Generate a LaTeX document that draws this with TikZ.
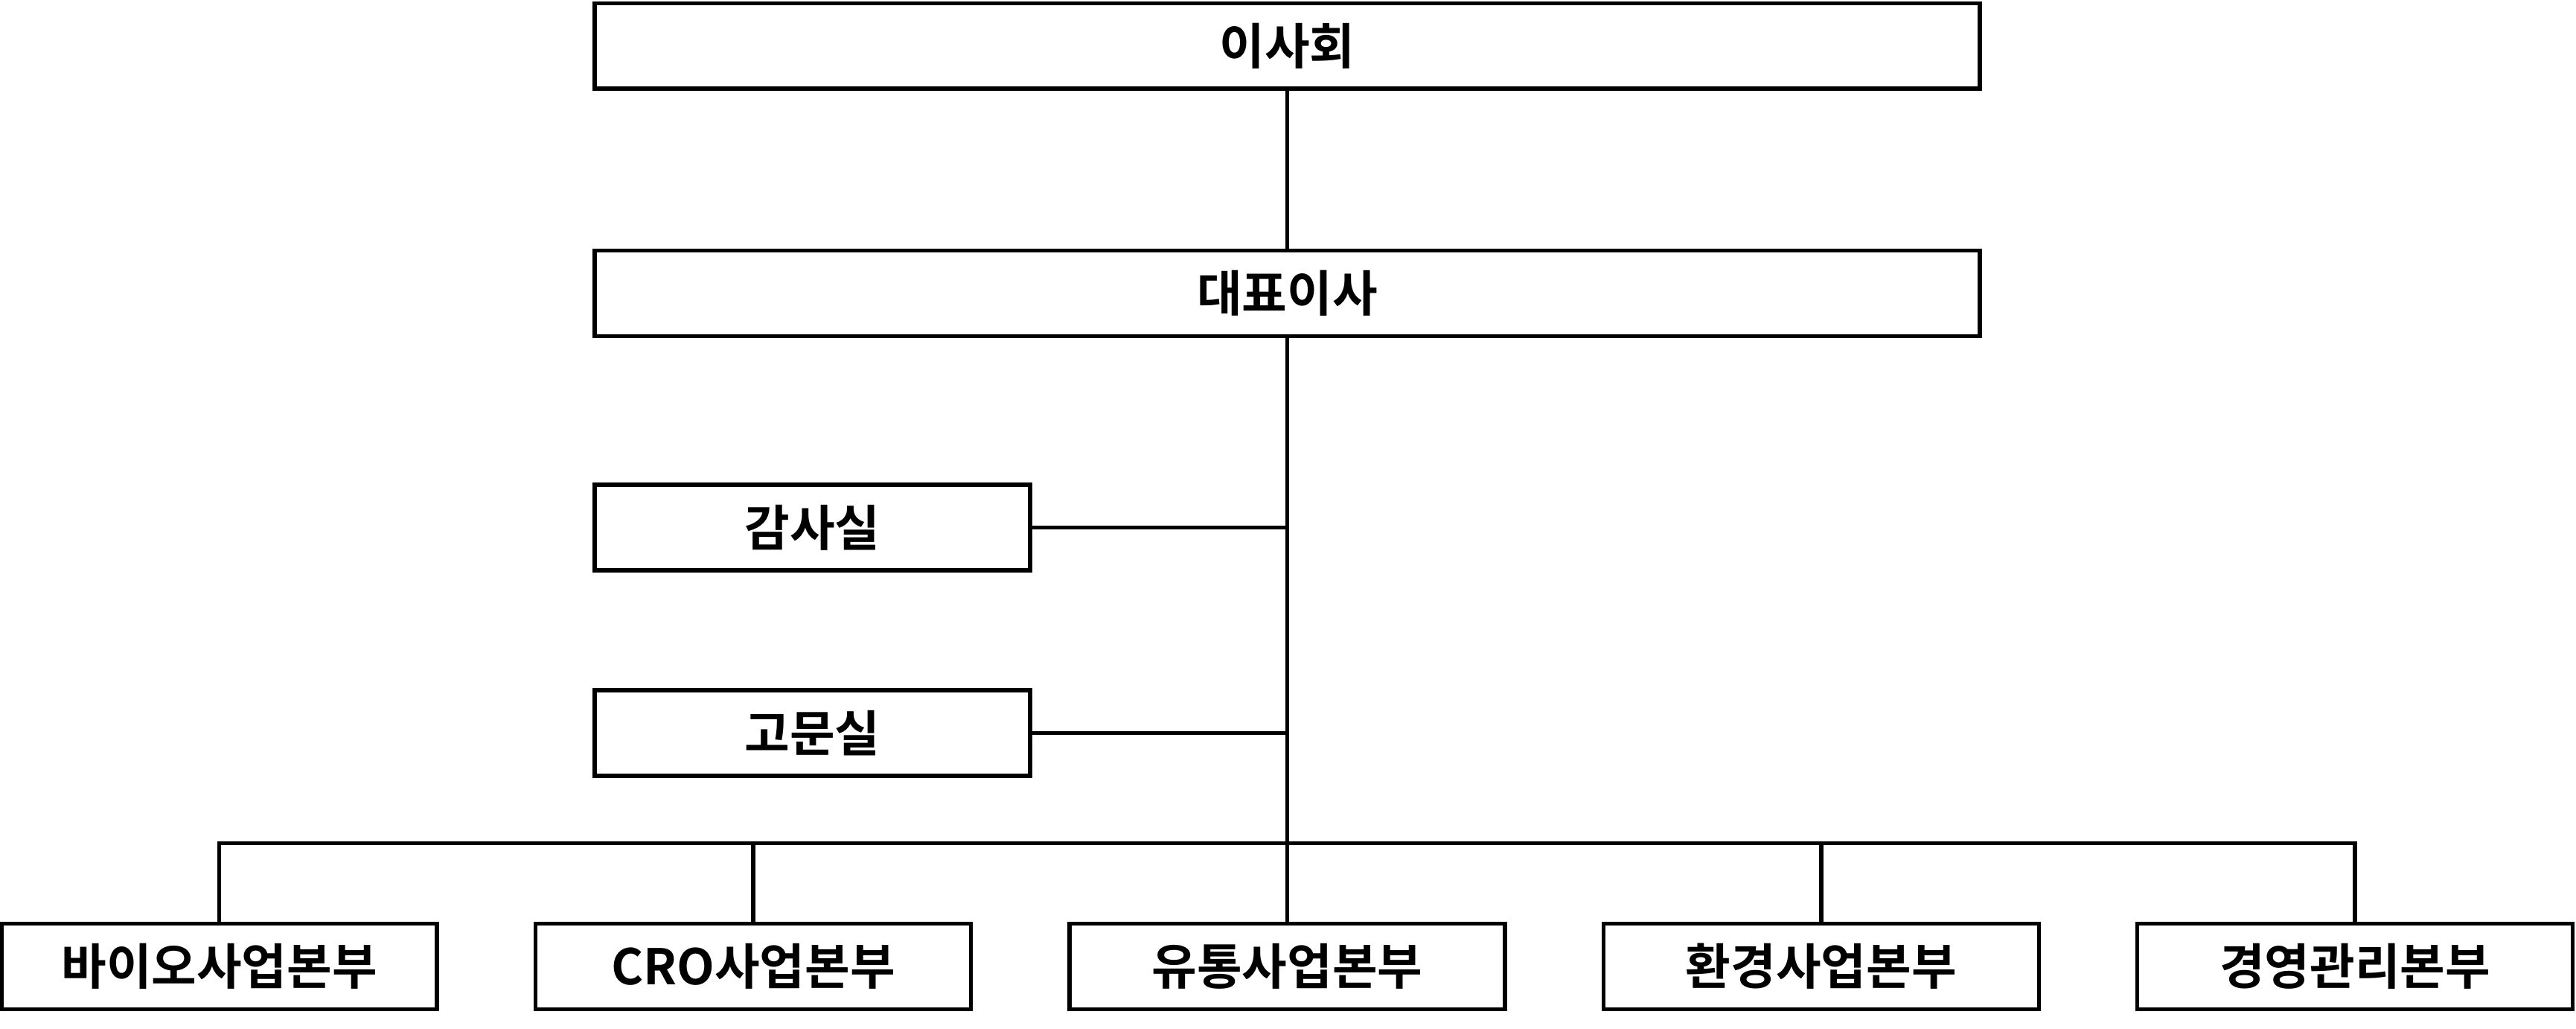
\documentclass[tikz,border=0pt]{standalone}
\usepackage{fontspec}
\setmainfont{Noto Sans CJK KR}[BoldFont={* Bold}]
\begin{document}
\begin{tikzpicture}[x=0.02cm,y=-0.02cm,
  box/.style={draw,line width=1.4pt,rectangle,minimum height=52*0.02cm,inner sep=0pt,font=\fontsize{17}{20}\selectfont\bfseries},
  wide/.style={box,minimum width=843*0.02cm},
  small/.style={box,minimum width=265*0.02cm},
  ln/.style={line width=1.4pt}]
\useasboundingbox (0,0) rectangle (1568,626);
\node[wide] (board) at (783.5,28) {이사회};
\node[wide] (ceo) at (783.5,178.5) {대표이사};
\node[small] (audit) at (494.5,321) {감사실};
\node[small] (adv) at (494.5,446) {고문실};
\node[small] (b1) at (133.5,588) {바이오사업본부};
\node[small] (b2) at (458.5,588) {CRO사업본부};
\node[small] (b3) at (783.5,588) {유통사업본부};
\node[small] (b4) at (1108.5,588) {환경사업본부};
\node[small] (b5) at (1433.5,588) {경영관리본부};
\coordinate (bus) at (783.5,513);
\draw[ln] (board.south) -- (ceo.north);
\draw[ln] (ceo.south) -- (bus);
\draw[ln] (audit.east) -- (audit.east -| bus);
\draw[ln] (adv.east) -- (adv.east -| bus);
\draw[ln] (b1.north) |- (bus) -| (b5.north);
\draw[ln] (b2.north) -- (b2.north |- bus);
\draw[ln] (b3.north) -- (bus);
\draw[ln] (b4.north) -- (b4.north |- bus);
\end{tikzpicture}
\end{document}
